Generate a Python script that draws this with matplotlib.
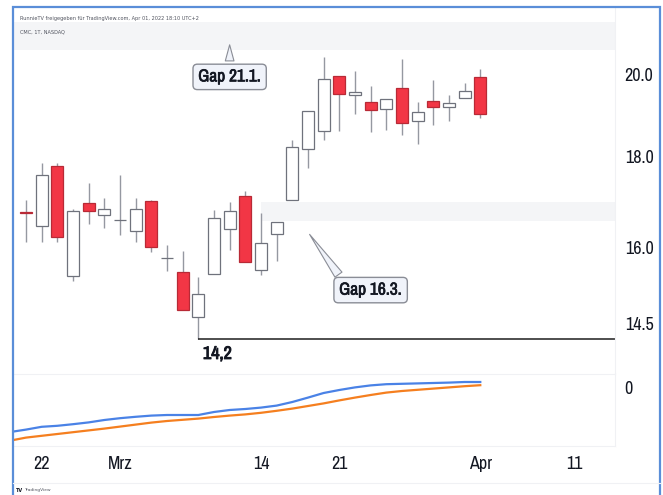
import matplotlib.pyplot as plt
import matplotlib.patheffects as pe
import numpy as np
import pandas as pd
from matplotlib import font_manager as fm
from matplotlib.font_manager import FontProperties
from matplotlib.patches import Rectangle
from matplotlib.ticker import NullLocator

# TradingView uses a condensed face; take a narrow one if installed
_cands = [f for f in fm.fontManager.ttflist
          if ('Narrow' in f.name or 'Condensed' in f.name) and f.style == 'normal']
if _cands:
    _reg = min(_cands, key=lambda f: abs(int(f.weight) - 400) if str(f.weight).isdigit() else 500)
    _same = [f for f in _cands if f.name == _reg.name]
    _bold = min(_same, key=lambda f: abs(int(f.weight) - 700) if str(f.weight).isdigit() else 500)
    REG = FontProperties(fname=_reg.fname)
    BOLD = FontProperties(fname=_bold.fname)
else:
    REG = FontProperties(family='Roboto')
    BOLD = FontProperties(family='Roboto', weight='bold')
# a thin stroke of the same colour so the labels look bold in any case
THICK = [pe.withStroke(linewidth=0.7, foreground='#131722')]

# trading days, first one (17.02.) only carries the indicator
days = pd.bdate_range('2022-02-17', '2022-04-14')
days = days[days != pd.Timestamp('2022-02-21')]

# CMC daily candles 18.02.2022 - 01.04.2022
opens = [16.74, 16.45, 17.78, 15.41, 16.94, 16.68, 16.58, 16.34, 16.99, 15.78,
         15.49, 14.62, 15.45, 16.38, 17.10, 15.54, 16.28, 17.01, 18.17, 18.60,
         19.97, 19.49, 19.31, 19.14, 19.67, 18.84, 19.34, 19.19, 19.41, 19.95]
highs = [17.01, 17.85, 17.85, 16.81, 17.39, 17.05, 17.57, 17.05, 17.01, 16.05,
         15.92, 15.39, 16.79, 16.97, 17.21, 16.73, 16.53, 18.39, 19.09, 20.47,
         19.97, 20.10, 19.72, 19.39, 20.42, 19.31, 19.87, 19.49, 19.80, 20.16]
lows = [16.11, 16.11, 16.11, 15.32, 16.49, 16.40, 16.26, 16.11, 15.90, 15.52,
        14.75, 14.22, 15.45, 15.94, 15.70, 15.43, 15.72, 17.01, 17.73, 18.39,
        18.60, 19.01, 18.58, 18.63, 18.51, 18.29, 18.75, 18.84, 19.41, 18.92]
closes = [16.72, 17.57, 16.22, 16.77, 16.77, 16.81, 16.58, 16.81, 16.01, 15.78,
          14.75, 15.06, 16.62, 16.77, 15.70, 16.09, 16.53, 18.22, 19.09, 19.89,
          19.51, 19.56, 19.11, 19.39, 18.80, 19.06, 19.19, 19.29, 19.59, 19.01]

# indicator lines 17.02. - 01.04.
blue = [-2.20, -2.08, -1.94, -1.89, -1.81, -1.72, -1.60, -1.51, -1.44, -1.38,
        -1.35, -1.35, -1.35, -1.20, -1.10, -1.05, -0.98, -0.88, -0.70, -0.48,
        -0.25, -0.10, 0.03, 0.13, 0.19, 0.21, 0.23, 0.25, 0.27, 0.30, 0.30]
orange = [-2.63, -2.48, -2.39, -2.30, -2.21, -2.12, -2.03, -1.93, -1.83, -1.73,
          -1.65, -1.59, -1.53, -1.45, -1.38, -1.32, -1.24, -1.14, -1.03, -0.90,
          -0.77, -0.62, -0.48, -0.35, -0.23, -0.15, -0.09, -0.03, 0.03, 0.09, 0.14]

gap_jan = (20.66, 21.42)     # Gap 21.1.
gap_mar = (16.55, 16.97)     # Gap 16.3.
low_line = 14.22

price_ticks = [14.5, 16.0, 18.0, 20.0]
date_ticks = {'2022-02-22': '22', '2022-03-01': 'Mrz', '2022-03-14': '14',
              '2022-03-21': '21', '2022-04-01': 'Apr', '2022-04-11': '11'}

pos = np.arange(1, len(opens) + 1)
o, h, l, c = map(np.array, (opens, highs, lows, closes))
up = c >= o
xl = (0.17, 38.6)
FS = 13

fig = plt.figure(figsize=(6.63, 4.95), dpi=100)
W, H = 663, 495

def box(x0, y0, x1, y1):
    return [x0 / W, 1 - y1 / H, (x1 - x0) / W, (y1 - y0) / H]

def setfont(texts, fp, size):
    for t in texts:
        t.set_fontproperties(fp)
        t.set_fontsize(size)

ax = fig.add_axes(box(13, 8, 615, 373))
ax2 = fig.add_axes(box(13, 374, 615, 446))

# price panel
ax.set_yscale('log')
ax.set_xlim(xl)
ax.set_ylim(13.60, 21.81)
ax.axhspan(*gap_jan, color='#f4f5f7', lw=0, zorder=0)
ax.fill_between([16, xl[1]], *gap_mar, color='#f4f5f7', lw=0, zorder=0)

ax.vlines(pos, l, h, color='#9598a1', lw=1, zorder=2)
ax.bar(pos[up], (c - o)[up], bottom=o[up], width=0.78, color='white',
       edgecolor='#6f727c', lw=0.9, zorder=3)
ax.bar(pos[~up], (o - c)[~up], bottom=c[~up], width=0.78, color='#f23645',
       edgecolor='#b82a36', lw=0.9, zorder=3)

ax.hlines(low_line, pos[11], xl[1], color='#1e1e1e', lw=1.1, zorder=2)
t1 = ax.text(pos[11] + 0.3, 13.94, '14,2', color='#131722', ha='left', va='center',
             path_effects=THICK)

bb = dict(boxstyle='round,pad=0.3,rounding_size=0.25', fc='#f0f3fa',
          ec='#8a8d96', lw=1)
a1 = ax.annotate('Gap 21.1.', xy=(14.0, 20.87), xytext=(14.0, 19.95),
                 ha='center', va='center', color='#131722', bbox=bb,
                 arrowprops=dict(arrowstyle='wedge,tail_width=0.5,shrink_factor=0.5',
                                 fc='#f0f3fa', ec='#8a8d96', lw=0.8, relpos=(0.5, 1.0)))
a2 = ax.annotate('Gap 16.3.', xy=(19.0, 16.32), xytext=(23.0, 15.14),
                 ha='center', va='center', color='#131722', bbox=bb,
                 arrowprops=dict(arrowstyle='wedge,tail_width=0.5,shrink_factor=0.5',
                                 fc='#f0f3fa', ec='#8a8d96', lw=0.8, relpos=(0.08, 1.0)))
setfont([t1], BOLD, FS)
setfont([a1, a2], BOLD, FS - 0.5)
for a in (a1, a2):
    a.set_path_effects([pe.withStroke(linewidth=0.5, foreground='#131722')])

ax.yaxis.tick_right()
ax.set_yticks(price_ticks)
ax.set_yticklabels([f'{t:.1f}' for t in price_ticks])
ax.yaxis.set_minor_locator(NullLocator())
ax.tick_params(axis='y', length=0, pad=7, labelcolor='#131722')
setfont(ax.get_yticklabels(), REG, FS)
ax.set_xticks([])
for s in ['top', 'left', 'bottom']:
    ax.spines[s].set_visible(False)
ax.spines['right'].set_color('#f0f1f4')

ax.text(0.012, 0.978, 'RunnieTV freigegeben für TradingView.com, Apr 01, 2022 18:10 UTC+2',
        transform=ax.transAxes, fontsize=3.6, color='#50535e', va='top')
ax.text(0.012, 0.94, 'CMC, 1T, NASDAQ', transform=ax.transAxes, fontsize=3.6,
        color='#50535e', va='top')

# indicator panel
ipos = np.arange(len(blue))
ax2.plot(ipos, blue, color='#4a82e6', lw=1.6)
ax2.plot(ipos, orange, color='#f57f1f', lw=1.6)
ax2.set_xlim(xl)
ax2.set_ylim(-2.9, 0.7)
ax2.yaxis.tick_right()
ax2.set_yticks([0])
ax2.tick_params(axis='y', length=0, pad=7, labelcolor='#131722')
ax2.set_xticks([days.get_loc(pd.Timestamp(d)) for d in date_ticks])
ax2.set_xticklabels(list(date_ticks.values()))
ax2.tick_params(axis='x', length=0, pad=7, labelcolor='#131722')
setfont(ax2.get_yticklabels() + ax2.get_xticklabels(), REG, FS)
ax2.spines['left'].set_visible(False)
for s in ['top', 'bottom', 'right']:
    ax2.spines[s].set_color('#f0f1f4')

# separator below the time scale and outer frame
fig.add_artist(plt.Line2D([13 / W, 660 / W], [1 - 483 / H] * 2, color='#f0f1f4', lw=0.8))
fig.text(16 / W, 1 - 490 / H, 'TV', fontsize=3.5, fontweight='bold', color='#131722', va='center')
fig.text(24 / W, 1 - 490 / H, 'TradingView', fontsize=3.2, color='#50535e', va='center')
fig.add_artist(Rectangle((13 / W, -0.02), 647 / W, 1.02 - 7 / H, transform=fig.transFigure,
                         fill=False, ec='#5a8ed8', lw=1.6))

fig.savefig('out.png', dpi=100)
